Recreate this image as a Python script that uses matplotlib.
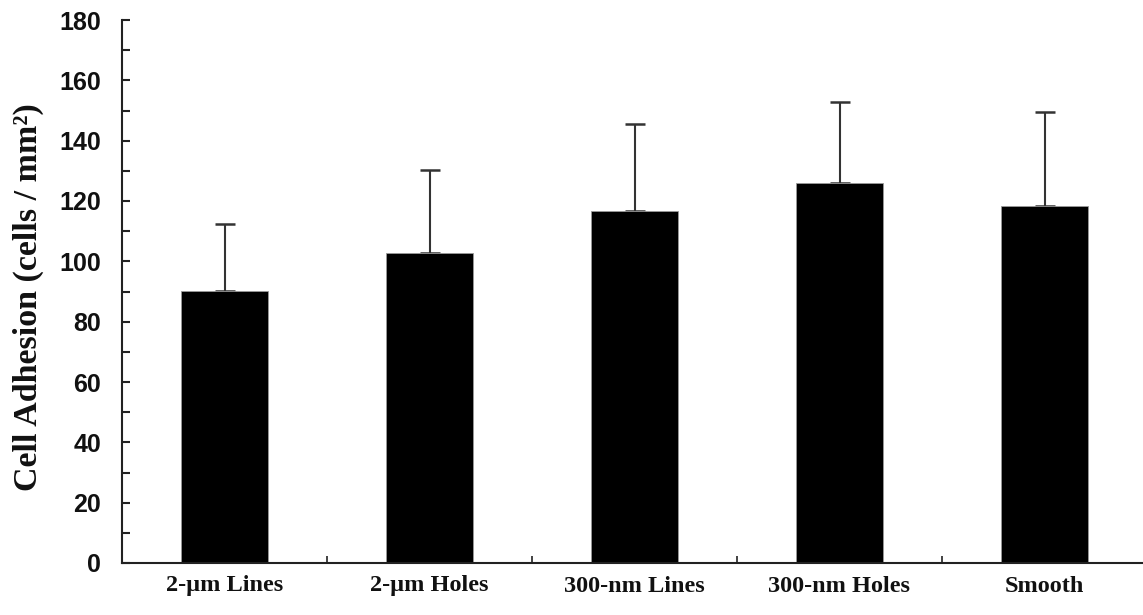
import numpy as np
import matplotlib
matplotlib.use('Agg')
import matplotlib.pyplot as plt

categories = ['2-\u00b5m Lines', '2-\u00b5m Holes', '300-nm Lines', '300-nm Holes', 'Smooth']
adhesion = [90.2, 102.7, 116.7, 125.9, 118.4]
sd_upper = [22.2, 27.6, 28.8, 26.9, 31.1]

fig = plt.figure(figsize=(11.43, 6.15), dpi=100)
ax = fig.add_axes([122/1143, 52/615, 1025/1143, 543/615])

x = np.arange(len(categories))
ax.bar(x, adhesion, width=0.42, color='black', edgecolor='#9a9a9a', linewidth=0.6, zorder=2)
ax.errorbar(x, adhesion, yerr=[np.zeros(len(x)), sd_upper], fmt='none',
            ecolor='#333333', elinewidth=1.5, capsize=7, capthick=1.8, zorder=1)

ax.set_xlim(-0.5, 4.5)
ax.set_ylim(0, 180)
ax.set_yticks(np.arange(0, 181, 20))
ax.set_yticks(np.arange(10, 180, 20), minor=True)
ax.set_xticks(x)
ax.set_xticks(x[:-1] + 0.5, minor=True)

for s in ['top', 'right']:
    ax.spines[s].set_visible(False)
for s in ['left', 'bottom']:
    ax.spines[s].set_color('#222222')
    ax.spines[s].set_linewidth(1.5)

ax.tick_params(axis='y', which='both', direction='in', length=6, width=1.5, color='#222222', pad=15)
ax.tick_params(axis='x', which='major', length=0, pad=9)
ax.tick_params(axis='x', which='minor', direction='in', length=5, width=1.2, color='#222222')

for lab in ax.get_yticklabels():
    lab.set_fontfamily('Liberation Sans')
    lab.set_fontweight('bold')
    lab.set_fontsize(18)
    lab.set_color('#111111')
ax.set_xticklabels(categories, fontfamily='Liberation Serif', fontweight='bold',
                   fontsize=17.5, color='#111111')
ax.set_ylabel('Cell Adhesion (cells / mm\u00b2)', fontfamily='Liberation Serif',
              fontweight='bold', fontsize=24.5, color='#111111')
ax.yaxis.set_label_coords(-0.076, 0.49)

fig.savefig('out.png', dpi=100)
